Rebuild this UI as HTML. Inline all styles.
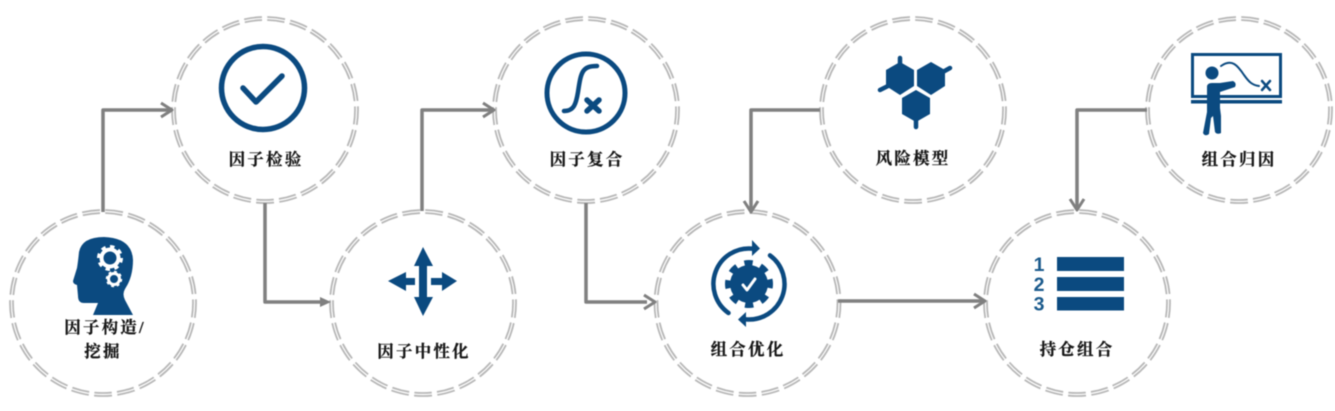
<!DOCTYPE html>
<html>
<head>
<meta charset="utf-8">
<style>
html,body{margin:0;padding:0;background:#fff;width:1335px;height:411px;overflow:hidden}
svg{display:block;filter:blur(0.6px)}
.ring{fill:none;stroke:#b8b8b8;stroke-width:1.8;stroke-dasharray:.77 .23;stroke-dashoffset:-5.87}
.conn{fill:none;stroke:#808080;stroke-width:3.5;stroke-linejoin:round}
.head{fill:none;stroke:#808080;stroke-width:3;stroke-linejoin:round}
.tri{fill:#808080}
text.l{font-family:"Liberation Serif","Noto Serif CJK SC",serif;font-weight:700;font-size:16.5px;fill:#161616;stroke:#161616;stroke-width:.25;text-anchor:middle;letter-spacing:2.2px}
.b{fill:#0b4a80}
.s{fill:none;stroke:#0b4a80;stroke-linecap:round;stroke-linejoin:round}
</style>
</head>
<body>
<svg width="1335" height="411" viewBox="0 0 1335 411" xmlns="http://www.w3.org/2000/svg">
<!-- rings -->
<g>
<g transform="translate(103,303)"><circle class="ring" r="93" pathLength="25"/><circle class="ring" r="90" pathLength="25"/></g>
<g transform="translate(265,110)"><circle class="ring" r="93" pathLength="25"/><circle class="ring" r="90" pathLength="25"/></g>
<g transform="translate(423,303)"><circle class="ring" r="93" pathLength="25"/><circle class="ring" r="90" pathLength="25"/></g>
<g transform="translate(586,110)"><circle class="ring" r="93" pathLength="25"/><circle class="ring" r="90" pathLength="25"/></g>
<g transform="translate(747.500,303)"><circle class="ring" r="93" pathLength="25"/><circle class="ring" r="90" pathLength="25"/></g>
<g transform="translate(913,110)"><circle class="ring" r="93" pathLength="25"/><circle class="ring" r="90" pathLength="25"/></g>
<g transform="translate(1077,303)"><circle class="ring" r="93" pathLength="25"/><circle class="ring" r="90" pathLength="25"/></g>
<g transform="translate(1239,110)"><circle class="ring" r="93" pathLength="25"/><circle class="ring" r="90" pathLength="25"/></g>
</g>
<!-- connectors -->
<polyline class="conn" points="103,212 103,110 171,110"/>
<polyline class="head" points="161,103 172,110 161,117"/>
<polyline class="conn" points="265,203 265,302 322,302"/>
<polygon class="tri" points="320,297 331,302 320,307"/>
<polyline class="conn" points="422,211 422,110 493,110"/>
<polyline class="head" points="483,103 494,110 483,117"/>
<polyline class="conn" points="586,203 586,302 647,302"/>
<polyline class="head" points="644,295 655,302 644,309"/>
<polyline class="conn" points="820,110 751,110 751,211"/>
<polyline class="head" points="744,201 751,212 758,201"/>
<polyline class="conn" points="838,301 984,301"/>
<polyline class="head" points="974,294 985,301 974,308"/>
<polyline class="conn" points="1147,110 1077,110 1077,209"/>
<polyline class="head" points="1070,199 1077,210 1084,199"/>
<!-- head icon -->
<path class="b" d="M133,315 L125,300 Q122,294 125,289 Q133,277 133,260 Q132,238 104,237 Q82,237 79,252 Q78,262 77,268 L73,281 Q73,284 77,285 L78,296 Q78,303 84,303 L98,303 L93,315 Z"/>
<g transform="translate(110,258)"><circle r="8.500" fill="none" stroke="#fff" stroke-width="4"/><circle r="11.500" fill="none" stroke="#fff" stroke-width="3" pathLength="8" stroke-dasharray=".5 .5"/></g>
<g transform="translate(114,279)"><circle r="5.500" fill="none" stroke="#fff" stroke-width="3"/><circle r="7" fill="none" stroke="#fff" stroke-width="2.500" pathLength="8" stroke-dasharray=".5 .5"/></g>
<!-- check icon -->
<circle class="s" cx="263" cy="88" r="41.500" stroke-width="5.500"/>
<polyline class="s" points="243,88 256,102 282,76" stroke-width="5.500"/>
<!-- arrows icon -->
<path class="b" d="M423,247 L433,266 L427,266 L427,297 L433,297 L423,316 L414,297 L419,297 L419,266 L414,266 Z"/>
<path class="b" d="M388,281 L406,272 L406,278 L415,278 L415,285 L406,285 L406,291 Z"/>
<path class="b" d="M457,281 L442,272 L442,278 L431,278 L431,285 L442,285 L442,291 Z"/>
<!-- fx icon -->
<circle class="s" cx="586" cy="93" r="39" stroke-width="5"/>
<path class="s" stroke-width="4.500" d="M564,111 C574,111 576,104 578,92 C581,72 582,66 597,66"/>
<path class="s" stroke-width="5.500" d="M587,100 L599,111 M599,100 L587,111"/>
<!-- gear cycle icon -->
<g transform="translate(749,284)">
<path class="s" stroke-width="4.500" stroke-linecap="butt" d="M-20.500,29 A35.500,35.500 0 0 1 3,-35.400"/>
<polygon class="b" points="3,-44 11,-35.500 3,-28"/>
<path class="s" stroke-width="4.500" stroke-linecap="butt" d="M21,-28.600 A35.500,35.500 0 0 1 -3,35.400"/>
<polygon class="b" points="-11,35.500 -3,28 -3,43"/>
<circle class="b" r="19"/>
<circle r="21" fill="none" stroke="#0b4a80" stroke-width="6" pathLength="8" stroke-dasharray=".5 .5" stroke-dashoffset=".25"/>
<polyline points="-6,1 -2,6 6,-5" fill="none" stroke="#fff" stroke-width="3" stroke-linecap="round" stroke-linejoin="round"/>
</g>
<!-- hex icon -->
<polygon class="b" points="900,62 914,70 914,86 900,95 886,86 886,70"/>
<polygon class="b" points="931,62 945,70 945,86 931,95 917,86 917,70"/>
<polygon class="b" points="916,90 930,98 930,114 916,122 902,114 902,98"/>
<path class="s" stroke-width="4.500" d="M900,58 L900,66 M880,90 L890,85 M950,68 L941,73 M916,127 L916,118"/>
<!-- list icon -->
<rect class="b" x="1057" y="257" width="67" height="14"/>
<rect class="b" x="1057" y="277" width="67" height="14"/>
<rect class="b" x="1057" y="297" width="67" height="13.500"/>
<g font-family="'Liberation Sans',sans-serif" font-weight="700" font-size="19.500" fill="#1a5a8c" text-anchor="middle">
<text x="1039" y="271">1</text><text x="1039" y="291">2</text><text x="1039" y="310.500">3</text>
</g>
<!-- teach icon -->
<rect x="1192.500" y="54.500" width="88" height="42" fill="none" stroke="#0b4a80" stroke-width="3"/>
<rect class="b" x="1191" y="100" width="91" height="3.500"/>
<circle class="b" cx="1212" cy="73" r="6.500"/>
<path class="b" d="M1207,87 Q1207,83 1212,83 L1220,83 L1233,81 Q1237,83 1235,87 L1220,92 L1220,108 L1221,116 L1221,133 Q1217,135 1215,132 L1213,116 L1211,118 L1209,134 Q1205,137 1203,133 L1207,112 Z"/>
<path class="s" stroke-width="2" d="M1221,66 C1232,58 1238,66 1244,75 C1249,82 1252,85 1259,86"/>
<path class="s" stroke-width="2.500" d="M1262,81 L1270,90 M1270,81 L1262,90"/>
<!-- labels -->
<text class="l" x="105" y="333">因子构造/</text>
<text class="l" x="103" y="357">挖掘</text>
<text class="l" x="266" y="165">因子检验</text>
<text class="l" x="424" y="357">因子中性化</text>
<text class="l" x="587" y="165">因子复合</text>
<text class="l" x="748" y="355">组合优化</text>
<text class="l" x="913" y="164">风险模型</text>
<text class="l" x="1077" y="355">持仓组合</text>
<text class="l" x="1239" y="165">组合归因</text>
</svg>
</body>
</html>
